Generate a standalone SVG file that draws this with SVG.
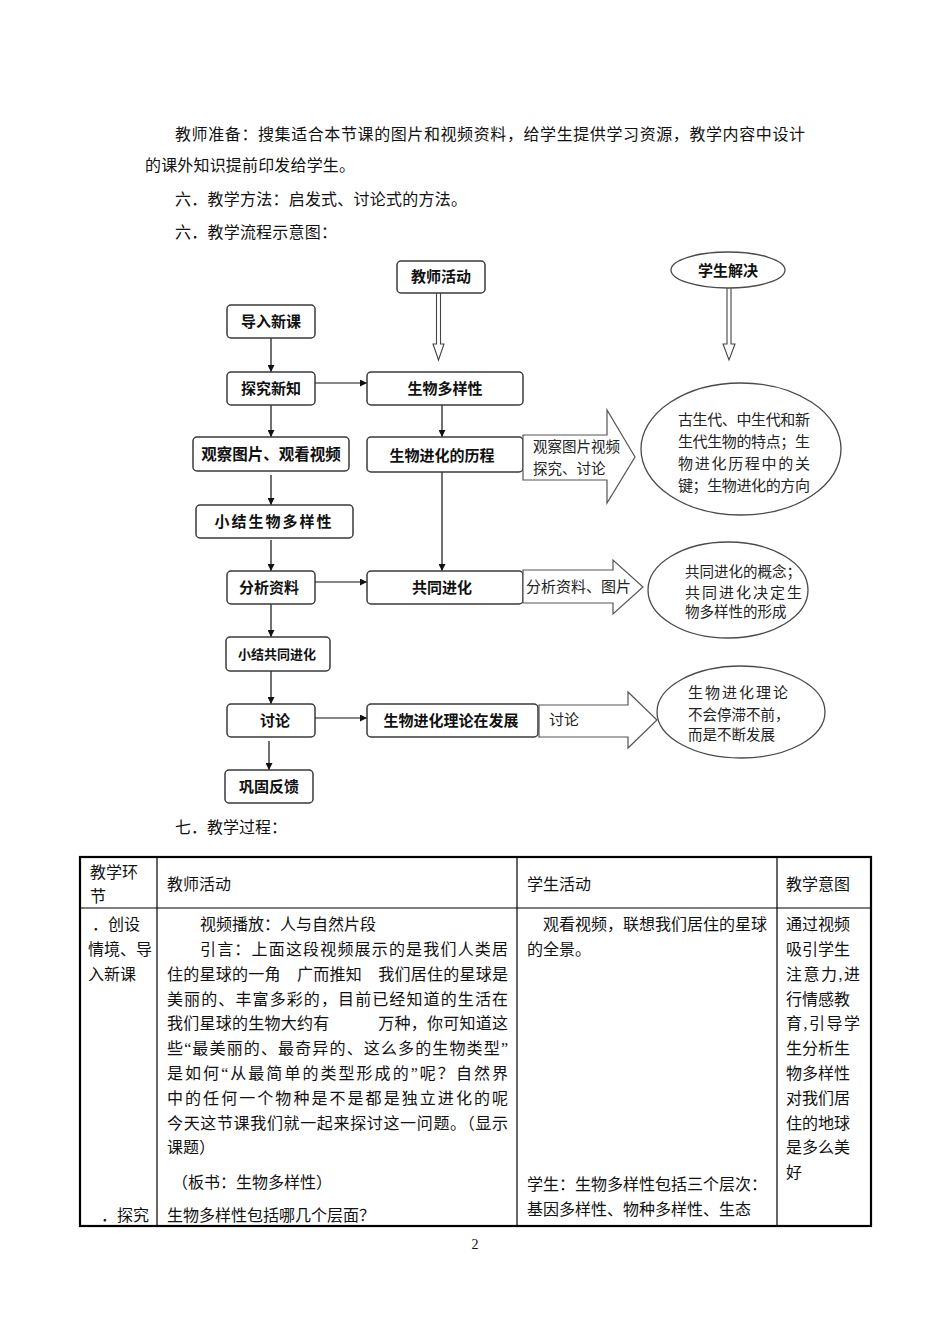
<svg xmlns="http://www.w3.org/2000/svg" width="950" height="1344" viewBox="0 0 950 1344">
<defs>
<style>
.body{font-family:"Liberation Serif","Noto Sans CJK SC",serif;font-size:16px;fill:#111}
.bx{fill:#fff;stroke:#3a3a3a;stroke-width:1.5}
.bt{font-family:"Noto Sans CJK SC",sans-serif;font-weight:bold;font-size:15px;fill:#111;text-anchor:middle}
.el{fill:#fff;stroke:#4a4a4a;stroke-width:1.3}
.et{font-family:"Noto Sans CJK SC",sans-serif;font-size:15px;fill:#222}
.blk{fill:#fff;stroke:#555;stroke-width:1.2}
.cn{stroke:#111;stroke-width:1.2;fill:none;marker-end:url(#ah)}
.dbl{fill:#fff;stroke:#444;stroke-width:1.1}
.tb{fill:none;stroke:#000;stroke-width:1.2}
.tbo{fill:none;stroke:#000;stroke-width:2.2}
</style>
<marker id="ah" viewBox="0 0 10 10" refX="10" refY="5" markerWidth="7" markerHeight="7" markerUnits="userSpaceOnUse" orient="auto">
<path d="M0,0 L10,5 L0,10 Z" fill="#111"/>
</marker>
</defs>
<rect width="950" height="1344" fill="#fff"/>

<g id="intro">
<text class="body" x="175" y="140" textLength="630" lengthAdjust="spacing">教师准备：搜集适合本节课的图片和视频资料，给学生提供学习资源，教学内容中设计</text>
<text class="body" x="145" y="171" textLength="210" lengthAdjust="spacing">的课外知识提前印发给学生。</text>
<text class="body" x="175" y="205" textLength="292" lengthAdjust="spacing">六．教学方法：启发式、讨论式的方法。</text>
<text class="body" x="175" y="238" textLength="162" lengthAdjust="spacing">六．教学流程示意图：</text>
</g>

<g id="connectors">
<line class="cn" x1="271" y1="338" x2="271" y2="372"/>
<line class="cn" x1="271" y1="405" x2="271" y2="437"/>
<line class="cn" x1="271" y1="475" x2="271" y2="505"/>
<line class="cn" x1="271" y1="540" x2="271" y2="571"/>
<line class="cn" x1="271" y1="604" x2="271" y2="637"/>
<line class="cn" x1="271" y1="671" x2="271" y2="704"/>
<line class="cn" x1="269" y1="741" x2="269" y2="770"/>
<line class="cn" x1="315" y1="383" x2="367" y2="383"/>
<line class="cn" x1="315" y1="582" x2="367" y2="582"/>
<line class="cn" x1="315" y1="718" x2="367" y2="718"/>
<line class="cn" x1="442" y1="405" x2="442" y2="437"/>
<line class="cn" x1="442" y1="472" x2="442" y2="571"/>
<path class="dbl" d="M436.5,293 V344 H433 L438.5,360 L444,344 H440.5 V293"/>
<path class="dbl" d="M727,288 V344 H723 L729,360 L735,344 H731 V288"/>
</g>

<g id="teacher-activity">
<rect class="bx" x="397" y="261" width="88" height="32" rx="4"/>
<text class="bt" x="441" y="282">教师活动</text>
</g>
<g id="student-solve">
<ellipse class="el" cx="728" cy="270" rx="57" ry="18"/>
<text class="bt" x="728" y="276">学生解决</text>
</g>

<g id="n-daoru">
<rect class="bx" x="227" y="305" width="88" height="33" rx="4"/>
<text class="bt" x="271" y="327">导入新课</text>
</g>
<g id="n-tanjiu">
<rect class="bx" x="227" y="372" width="88" height="33" rx="4"/>
<text class="bt" x="271" y="394">探究新知</text>
</g>
<g id="n-guancha">
<rect class="bx" x="193" y="437" width="156" height="34" rx="4"/>
<text class="bt" x="271" y="460" style="font-size:15.5px">观察图片、观看视频</text>
</g>
<g id="n-xiaojie1">
<rect class="bx" x="196" y="505" width="157" height="33" rx="4"/>
<text class="bt" x="274" y="527" style="letter-spacing:2px">小结生物多样性</text>
</g>
<g id="n-fenxi">
<rect class="bx" x="227" y="571" width="88" height="33" rx="4"/>
<text class="bt" x="269" y="593">分析资料</text>
</g>
<g id="n-xiaojie2">
<rect class="bx" x="226" y="637" width="104" height="34" rx="4"/>
<text class="bt" x="277" y="659" style="font-size:13px">小结共同进化</text>
</g>
<g id="n-taolun">
<rect class="bx" x="227" y="704" width="88" height="33" rx="4"/>
<text class="bt" x="275" y="726">讨论</text>
</g>
<g id="n-gonggu">
<rect class="bx" x="225" y="770" width="88" height="33" rx="4"/>
<text class="bt" x="269" y="792">巩固反馈</text>
</g>

<g id="n-duoyang">
<rect class="bx" x="367" y="372" width="156" height="33" rx="4"/>
<text class="bt" x="445" y="394">生物多样性</text>
</g>
<g id="n-licheng">
<rect class="bx" x="367" y="437" width="156" height="35" rx="4"/>
<text class="bt" x="442" y="461">生物进化的历程</text>
</g>
<g id="n-gongtong">
<rect class="bx" x="367" y="571" width="156" height="33" rx="4"/>
<text class="bt" x="442" y="593">共同进化</text>
</g>
<g id="n-fazhan">
<rect class="bx" x="367" y="704" width="171" height="33" rx="4"/>
<text class="bt" x="451" y="726">生物进化理论在发展</text>
</g>

<g id="arrow1">
<path class="blk" d="M523,435 H607 V410 L635,457 L607,503 V480 H523 Z"/>
<text class="et" x="533" y="452" style="font-size:14.5px">观察图片视频</text>
<text class="et" x="533" y="474" style="font-size:14.5px">探究、讨论</text>
</g>
<g id="arrow2">
<path class="blk" d="M523,570 H613 V560 L643,587 L613,614 V603 H523 Z"/>
<text class="et" x="526" y="592">分析资料、图片</text>
</g>
<g id="arrow3">
<path class="blk" d="M539,705 H628 V692 L657,720 L628,748 V737 H539 Z"/>
<text class="et" x="549" y="725">讨论</text>
</g>

<g id="ellipse1">
<ellipse class="el" cx="741" cy="449" rx="100" ry="66"/>
<text class="et" x="678" y="425" textLength="132">古生代、中生代和新</text>
<text class="et" x="678" y="447" textLength="132">生代生物的特点；生</text>
<text class="et" x="678" y="469" textLength="132">物进化历程中的关</text>
<text class="et" x="678" y="491" textLength="132">键；生物进化的方向</text>
</g>
<g id="ellipse2">
<ellipse class="el" cx="728" cy="590" rx="80" ry="48"/>
<text class="et" x="685" y="577" style="font-size:14.5px">共同进化的概念；</text>
<text class="et" x="685" y="598" textLength="117">共同进化决定生</text>
<text class="et" x="685" y="617" style="font-size:14.5px">物多样性的形成</text>
</g>
<g id="ellipse3">
<ellipse class="el" cx="741" cy="712" rx="84" ry="46"/>
<text class="et" x="688" y="698" textLength="100">生物进化理论</text>
<text class="et" x="688" y="720" style="font-size:14.5px">不会停滞不前，</text>
<text class="et" x="688" y="740" style="font-size:14.5px">而是不断发展</text>
</g>

<g id="heading7">
<text class="body" x="175" y="833">七．教学过程：</text>
</g>

<g id="table">
<rect class="tbo" x="80" y="857" width="791" height="369"/>
<line class="tb" x1="80" y1="908" x2="871" y2="908"/>
<line class="tb" x1="157" y1="857" x2="157" y2="1226"/>
<line class="tb" x1="517" y1="857" x2="517" y2="1226"/>
<line class="tb" x1="777" y1="857" x2="777" y2="1226"/>

<text class="body" x="90" y="878">教学环</text>
<text class="body" x="90" y="902">节</text>
<text class="body" x="167" y="890">教师活动</text>
<text class="body" x="527" y="890">学生活动</text>
<text class="body" x="786" y="890">教学意图</text>

<text class="body" x="92" y="930">．创设</text>
<text class="body" x="88" y="955">情境、导</text>
<text class="body" x="88" y="980">入新课</text>
<text class="body" x="101" y="1221">．探究</text>

<text class="body" x="200" y="930">视频播放：人与自然片段</text>
<text class="body" x="200" y="955" textLength="308" lengthAdjust="spacing">引言：上面这段视频展示的是我们人类居</text>
<text class="body" x="167" y="980" textLength="341" lengthAdjust="spacing">住的星球的一角　广而推知　我们居住的星球是</text>
<text class="body" x="167" y="1005" textLength="341" lengthAdjust="spacing">美丽的、丰富多彩的，目前已经知道的生活在</text>
<text class="body" x="167" y="1029" textLength="341" lengthAdjust="spacing">我们星球的生物大约有　　　万种，你可知道这</text>
<text class="body" x="167" y="1054" textLength="341" lengthAdjust="spacing">些“最美丽的、最奇异的、这么多的生物类型”</text>
<text class="body" x="167" y="1079" textLength="341" lengthAdjust="spacing">是如何“从最简单的类型形成的”呢？自然界</text>
<text class="body" x="167" y="1104" textLength="341" lengthAdjust="spacing">中的任何一个物种是不是都是独立进化的呢</text>
<text class="body" x="167" y="1129" textLength="341" lengthAdjust="spacing">今天这节课我们就一起来探讨这一问题。（显示</text>
<text class="body" x="167" y="1153">课题）</text>
<text class="body" x="172" y="1188">（板书：生物多样性）</text>
<text class="body" x="167" y="1221">生物多样性包括哪几个层面？</text>

<text class="body" x="527" y="930">　观看视频，联想我们居住的星球</text>
<text class="body" x="527" y="955">的全景。</text>
<text class="body" x="527" y="1190">学生：生物多样性包括三个层次：</text>
<text class="body" x="527" y="1215">基因多样性、物种多样性、生态</text>

<text class="body" x="786" y="930">通过视频</text>
<text class="body" x="786" y="955">吸引学生</text>
<text class="body" x="786" y="980" textLength="74" lengthAdjust="spacing">注意力,进</text>
<text class="body" x="786" y="1005">行情感教</text>
<text class="body" x="786" y="1029" textLength="74" lengthAdjust="spacing">育,引导学</text>
<text class="body" x="786" y="1054">生分析生</text>
<text class="body" x="786" y="1079">物多样性</text>
<text class="body" x="786" y="1104">对我们居</text>
<text class="body" x="786" y="1129">住的地球</text>
<text class="body" x="786" y="1153">是多么美</text>
<text class="body" x="786" y="1178">好</text>
</g>

<g id="page-number">
<text class="body" x="475" y="1249" style="font-size:14px" text-anchor="middle">2</text>
</g>
</svg>
